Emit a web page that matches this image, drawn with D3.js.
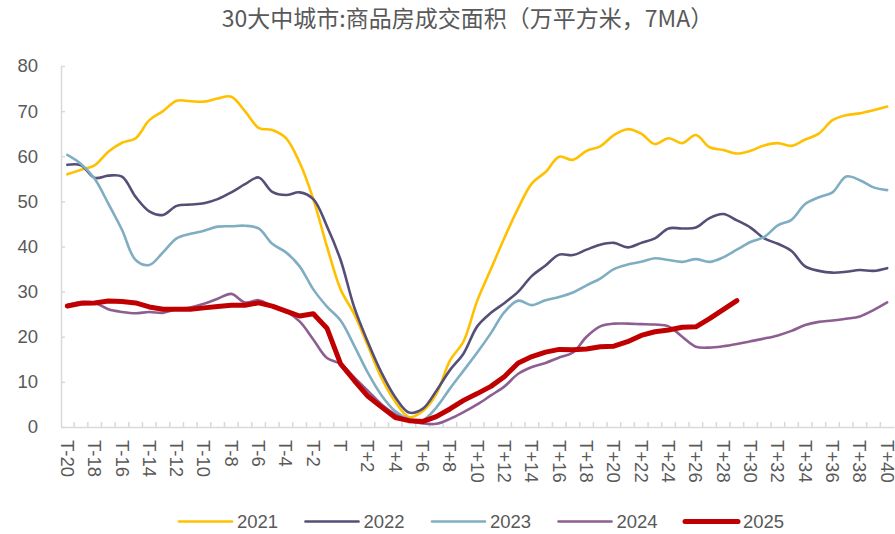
<!DOCTYPE html>
<html><head><meta charset="utf-8">
<script src="https://cdn.jsdelivr.net/npm/d3@7"></script>
<style>
html,body{margin:0;padding:0;background:#fff;}
svg{display:block;font-family:"Liberation Sans",Arial,sans-serif;}
</style></head>
<body><svg id="c" width="895" height="534"></svg>
<script>
const title = "30大中城市:商品房成交面积（万平方米，7MA）";
const categories = [];
for (let k = -20; k <= 40; k++) categories.push(k === 0 ? "T" : (k < 0 ? "T" + k : "T+" + k));
const yTicks = [0,10,20,30,40,50,60,70,80];
const seriesNames = ["2021","2022","2023","2024","2025"];
const s2021 = [56,57,58,61,63,64,68,70,72.3,72.2,72.1,72.8,73.2,70,66.3,65.8,64,58.6,50.5,40,30.5,25,18,10.8,5.6,2.2,3.5,7.3,14.7,19,28,35,42,48.5,54,56.5,59.9,59.2,61.2,62.2,64.7,66,65,62.7,64,62.9,64.7,62,61.4,60.6,61.2,62.4,62.9,62.3,63.7,65,68,69.1,69.5,70.2,71];
const s2022 = [58.1,58,55.2,55.7,55.5,51,47.8,47,49,49.3,49.6,50.5,52,53.8,55.3,52.1,51.4,52,50.5,44.5,37,26.5,18.8,12,6.6,3.2,4,8,12.6,16.3,22.3,25.3,27.5,30,33.5,35.8,38.2,38.1,39.3,40.4,40.8,39.8,40.8,41.8,44,44,44.2,46.3,47.2,45.8,44.2,41.8,40.6,39,35.6,34.6,34.2,34.4,34.8,34.6,35.2];
const s2023 = [60.3,58.3,55,49.5,43.7,37,35.9,38.7,41.8,42.8,43.5,44.4,44.5,44.6,44,40.6,38.7,35.6,30.5,26.7,23.6,18,12,7,3.5,1.8,1.5,4.3,8.5,12.5,16.5,20.8,25.5,28,27,28.1,28.8,29.8,31.4,32.9,35,36,36.6,37.4,37,36.6,37.2,36.6,37.6,39.3,41,42.1,44.7,45.9,49.4,50.9,52,55.5,54.7,53.1,52.5];
const s2024 = [27,27.7,27.5,26.1,25.5,25.2,25.5,25.3,26.1,26.5,27.3,28.4,29.5,27.6,28.1,26.8,25.6,23.4,19.4,15.3,14,11,8,5,2.8,1.4,0.8,0.7,1.8,3.3,5,7,9,11.8,13.3,14.2,15.4,16.5,20,22.3,22.9,22.9,22.8,22.7,22.3,20,17.8,17.6,17.9,18.4,19,19.6,20.3,21.3,22.6,23.3,23.6,24,24.5,25.9,27.6];
const s2025 = [26.8,27.4,27.5,27.9,27.8,27.5,26.6,26.1,26.1,26.1,26.4,26.7,27,27,27.5,26.8,25.7,24.6,25.1,21.9,14,10.3,6.8,4.4,2.1,1.4,1.2,2.3,4,5.9,7.4,9,11.2,14.2,15.6,16.6,17.2,17.1,17.3,17.8,17.9,18.9,20.3,21.1,21.5,22.1,22.2,24,26,28];
const seriesValues = [s2021,s2022,s2023,s2024,s2025];
const colors = ["#FFC000","#554F77","#7FAEC3","#8C5E91","#C00000"];
const widths = [2.6,2.6,2.6,2.6,5];

const svg = d3.select("#c");
const x = d3.scaleBand().domain(categories).range([60.5, 894]);
const y = d3.scaleLinear().domain([0, 80]).range([427, 66]);
const cx = c => x(c) + x.bandwidth() / 2;
const axisColor = "#D9D9D9", textColor = "#595959";

svg.append("text").attr("x", 467.5).attr("y", 27).attr("text-anchor", "middle")
  .attr("font-family", "'Noto Sans CJK SC',sans-serif").attr("font-size", 23)
  .attr("fill", textColor).text(title);

// y axis
const ya = svg.append("g").attr("transform", "translate(61,0)")
  .call(d3.axisLeft(y).tickValues(yTicks).tickSize(-4).tickPadding(23).tickSizeOuter(0));
ya.select(".domain").attr("stroke", axisColor).attr("stroke-width", 1.5);
ya.selectAll(".tick line").attr("stroke", axisColor).attr("stroke-width", 1.5);
ya.selectAll(".tick text").attr("font-size", 18.5).attr("fill", textColor).attr("font-family", "'Liberation Sans',Arial,sans-serif");

// x axis
const xa = svg.append("g").attr("transform", "translate(0,427)")
  .call(d3.axisBottom(x).tickValues(categories.filter((d,i)=>i%2===0)).tickSize(0).tickSizeOuter(0));
xa.select(".domain").attr("stroke", axisColor).attr("stroke-width", 1.5);
xa.selectAll(".tick text").attr("font-size", 18.5).attr("fill", textColor)
  .attr("font-family", "'Liberation Sans',Arial,sans-serif")
  .attr("text-anchor", "start").attr("dy", "0.35em")
  .attr("transform", "translate(0,13) rotate(90)").attr("y", 0).attr("x", 0);
// band boundary tick marks (pointing up)
const bounds = categories.slice(1).map(c => x(c));
svg.append("g").selectAll("line").data(bounds).join("line")
  .attr("x1", d => d).attr("x2", d => d).attr("y1", 427).attr("y2", 422)
  .attr("stroke", axisColor).attr("stroke-width", 1.5);

// lines
seriesValues.forEach((vals, si) => {
  const line = d3.line()
    .x((d, i) => cx(categories[i]))
    .y(d => y(d))
    .curve(si === 4 ? d3.curveLinear : d3.curveCatmullRom.alpha(0.5));
  svg.append("path").datum(vals).attr("d", line).attr("fill", "none")
    .attr("stroke", colors[si]).attr("stroke-width", widths[si])
    .attr("stroke-linejoin", "round").attr("stroke-linecap", "round");
});

// legend
const lg = svg.append("g");
seriesNames.forEach((n, i) => {
  const x0 = 179 + i * 126.5;
  lg.append("line").attr("x1", x0).attr("x2", x0 + 53).attr("y1", 521.5).attr("y2", 521.5)
    .attr("stroke", colors[i]).attr("stroke-width", widths[i]).attr("stroke-linecap", "round");
  lg.append("text").attr("x", x0 + 58).attr("y", 528).attr("font-size", 18.5)
    .attr("fill", textColor).text(n);
});
</script></body></html>
